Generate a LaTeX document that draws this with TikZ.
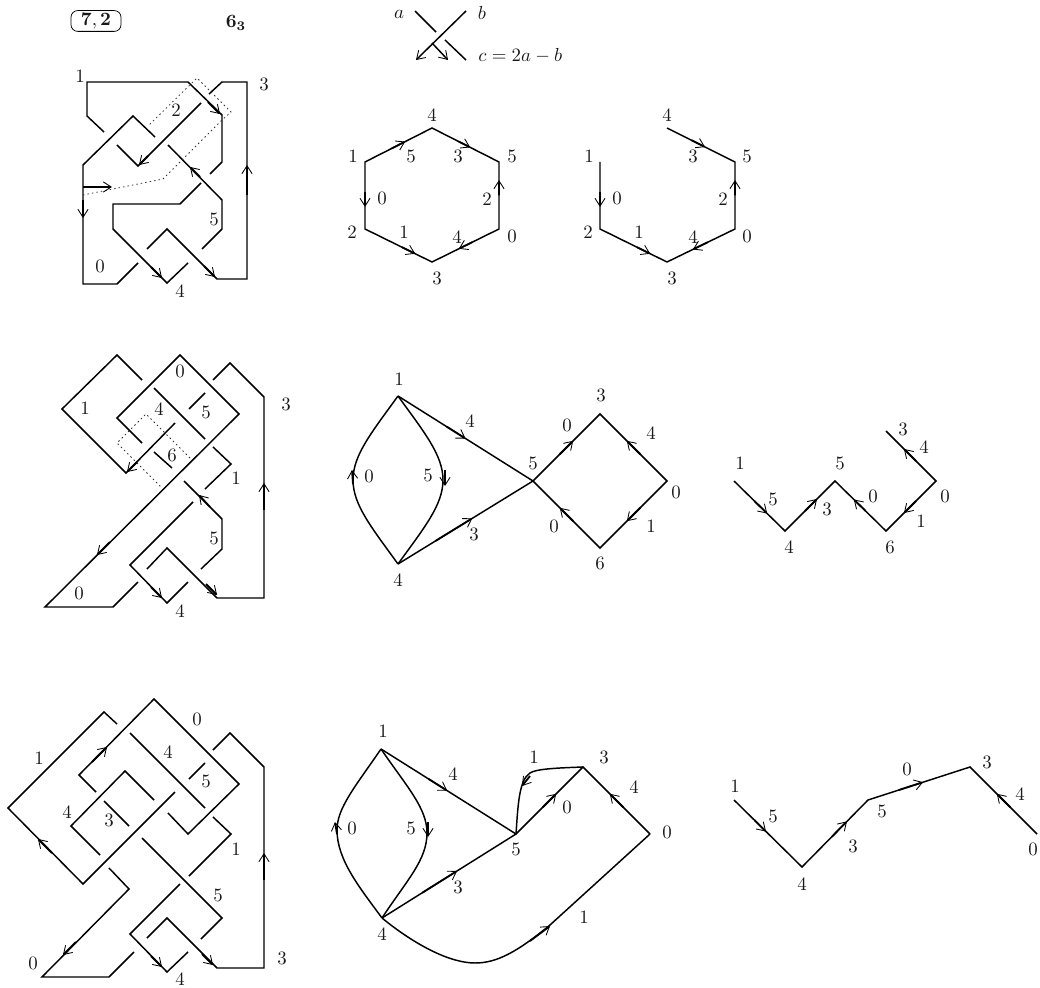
\documentclass[tikz,border=0pt]{standalone}
\usepackage{amsmath,amssymb}
\usetikzlibrary{arrows.meta,calc}
\tikzset{
  >={Straight Barb[length=4.2pt,width=5.4pt,line width=.45pt]},
  kn/.style={draw=black,line width=0.78pt,line join=miter},
  arw/.style={->,draw=black,line width=0.95pt},
  dt/.style={draw=black!80,line width=0.4pt,dash pattern=on 0.8pt off 1.6pt},
  lab/.style={inner sep=0pt,text=black!90},
}
\begin{document}
\begin{tikzpicture}[x=0.53pt,y=-0.53pt]
  \useasboundingbox (0,0) rectangle (1040,988);
  % titel
  \node[lab,draw,line width=0.4pt,rounded corners=3.5pt,minimum width=26.5pt,minimum height=11pt] (tbox) at (96,21) {$\mathbf{7,2}$};
  \node[lab] (tknot) at (236,23) {$\mathbf{6_{3}}$};
  % korsning
  \coordinate (ca) at (415,11);
  \coordinate (cb) at (466,11);
  \coordinate (cc) at (466,60);
  \draw[kn] (ca) -- (436,32);
  \draw[kn] (445,40) -- (cc);
  \draw[->,kn] (cb) -- (416,60);
  \draw[->,kn] (432,43) -- (448,60);
  \node[lab] (cla) at (399,14) {$a$};
  \node[lab] (clb) at (482,13) {$b$};
  \node[lab,anchor=west] (clc) at (478,56) {$c=2a-b$};
  % rad 1, diagram
  \draw[kn] (104,132) -- (87,116) -- (87,82) -- (188,82) -- (222,115) -- (222,162) -- (210,174);
  \draw[kn] (155,137) -- (133,116) -- (83,165) -- (83,284) -- (117,284) -- (138,263);
  \draw[kn] (201,103) -- (138,166) -- (117,145);
  \draw[kn] (168,145) -- (222,200) -- (222,229) -- (202,249);
  \draw[kn] (201,183) -- (180,204) -- (113,204) -- (113,229) -- (167,283) -- (188,263);
  \draw[kn] (147,249) -- (167,229) -- (217,279) -- (247,279) -- (247,82) -- (222,82) -- (209,94);
  \draw[dt] (83,195) -- (163,179) -- (222,120) -- (231,112) -- (197,78) -- (148,126);
  \draw[arw] (208,102) -- (220,114);
  \draw[arw] (83,200) -- (83,218);
  \draw[arw] (148,156) -- (139,165);
  \draw[arw] (200,177) -- (190,167);
  \draw[arw] (151,267) -- (162,278);
  \draw[arw] (204,266) -- (215,277);
  \draw[arw] (247,195) -- (247,165);
  \draw[->,kn] (83,187) -- (112,187);
  \node[lab] (a1) at (80,76) {1};
  \node[lab] (a2) at (176,110) {2};
  \node[lab] (a3) at (264,84) {3};
  \node[lab] (a5) at (214,219) {5};
  \node[lab] (a0) at (100,266) {0};
  \node[lab] (a4) at (180,291) {4};
  % rad 1, sexhörning
  \coordinate (h1) at (365,162);
  \coordinate (h4) at (432,128);
  \coordinate (h5) at (499,162);
  \coordinate (h0) at (499,229);
  \coordinate (h3) at (432,262);
  \coordinate (h2) at (365,229);
  \draw[kn] (h1) -- (h4) -- (h5) -- (h0) -- (h3) -- (h2) -- cycle;
  \draw[arw] ($(h1)!.4!(h4)$) -- ($(h1)!.6!(h4)$);
  \draw[arw] ($(h4)!.4!(h5)$) -- ($(h4)!.57!(h5)$);
  \draw[arw] ($(h1)!.45!(h2)$) -- ($(h1)!.67!(h2)$);
  \draw[arw] ($(h2)!.55!(h3)$) -- ($(h2)!.75!(h3)$);
  \draw[arw] ($(h0)!.4!(h3)$) -- ($(h0)!.6!(h3)$);
  \draw[arw] ($(h0)!.5!(h5)$) -- ($(h0)!.73!(h5)$);
  \node[lab] (b4) at (432,115) {4};
  \node[lab] (b1) at (353,156) {1};
  \node[lab] (be5) at (411,156) {5};
  \node[lab] (be3) at (458,156) {3};
  \node[lab] (b5) at (512,156) {5};
  \node[lab] (be0) at (382,198) {0};
  \node[lab] (be2) at (487,199) {2};
  \node[lab] (b2) at (352,232) {2};
  \node[lab] (be1) at (404,232) {1};
  \node[lab] (be4) at (457,237) {4};
  \node[lab] (b0) at (512,236) {0};
  \node[lab] (b3) at (437,278) {3};
  % rad 1, öppen sexhörning
  \coordinate (i4) at (667,128);
  \coordinate (i5) at (735,162);
  \coordinate (i0) at (735,229);
  \coordinate (i3) at (667,262);
  \coordinate (i2) at (600,229);
  \coordinate (i1) at (600,162);
  \draw[kn] (i4) -- (i5) -- (i0) -- (i3) -- (i2) -- (i1);
  \draw[arw] ($(i4)!.36!(i5)$) -- ($(i4)!.56!(i5)$);
  \draw[arw] ($(i0)!.5!(i5)$) -- ($(i0)!.73!(i5)$);
  \draw[arw] ($(i1)!.45!(i2)$) -- ($(i1)!.67!(i2)$);
  \draw[arw] ($(i2)!.55!(i3)$) -- ($(i2)!.75!(i3)$);
  \draw[arw] ($(i0)!.4!(i3)$) -- ($(i0)!.62!(i3)$);
  \node[lab] (c4) at (667,115) {4};
  \node[lab] (c1) at (589,156) {1};
  \node[lab] (ce3) at (693,156) {3};
  \node[lab] (c5) at (747,156) {5};
  \node[lab] (ce0) at (617,198) {0};
  \node[lab] (ce2) at (723,199) {2};
  \node[lab] (c2) at (588,232) {2};
  \node[lab] (ce1) at (639,232) {1};
  \node[lab] (ce4) at (693,237) {4};
  \node[lab] (c0) at (747,236) {0};
  \node[lab] (c3) at (672,278) {3};
  % rad 2, diagram
  \draw[kn] (142,380) -- (117,355) -- (62,409) -- (126,473) -- (175,423);
  \draw[kn] (142,443) -- (117,418) -- (180,355) -- (239,414) -- (45,607) -- (113,607) -- (138,582);
  \draw[kn] (154,388) -- (205,439);
  \draw[kn] (189,409) -- (205,393);
  \draw[kn] (154,452) -- (172,468);
  \draw[kn] (213,380) -- (230,363) -- (264,397) -- (264,598) -- (217,598) -- (167,548) -- (147,569);
  \draw[kn] (213,447) -- (231,464) -- (205,489);
  \draw[kn] (184,481) -- (222,519) -- (222,549) -- (201,569);
  \draw[kn] (193,502) -- (130,565) -- (167,603) -- (188,582);
  \draw[dt] (190,458) -- (146,414) -- (117,443) -- (162,488);
  \draw[arw] (137,462) -- (127,472);
  \draw[arw] (110,542) -- (97,555);
  \draw[arw] (264,510) -- (264,483);
  \draw[arw] (206,584) -- (217,595);
  \draw[arw] (210,507) -- (199,495);
  \draw[arw] (151,587) -- (162,598);
  \node[lab] (d0) at (180,371) {0};
  \node[lab] (d1) at (85,408) {1};
  \node[lab] (d3) at (286,404) {3};
  \node[lab] (d4) at (159,409) {4};
  \node[lab] (d5) at (206,412) {5};
  \node[lab] (d6) at (172,455) {6};
  \node[lab] (dd1) at (236,478) {1};
  \node[lab] (dd5) at (214,538) {5};
  \node[lab] (dd0) at (79,593) {0};
  \node[lab] (dd4) at (180,611) {4};
  % rad 2, graf
  \coordinate (g1) at (398,396);
  \coordinate (g4) at (398,564);
  \coordinate (g5) at (533,481);
  \coordinate (g3) at (600,414);
  \coordinate (g0) at (667,481);
  \coordinate (g6) at (600,548);
  \draw[kn] (g1) .. controls (372,432) and (353,455) .. (353,480) .. controls (353,505) and (372,528) .. (g4);
  \draw[kn] (g1) .. controls (424,432) and (443,455) .. (443,480) .. controls (443,505) and (424,528) .. (g4);
  \draw[kn] (g1) -- (g5) -- (g3) -- (g0) -- (g6) -- (g5) -- (g4);
  \draw[arw] (353,484) -- (352,470);
  \draw[arw] (445,470) -- (445,486);
  \draw[arw] ($(g1)!.36!(g5)$) -- ($(g1)!.5!(g5)$);
  \draw[arw] ($(g4)!.28!(g5)$) -- ($(g4)!.55!(g5)$);
  \draw[arw] ($(g5)!.4!(g3)$) -- ($(g5)!.6!(g3)$);
  \draw[arw] ($(g0)!.4!(g3)$) -- ($(g0)!.6!(g3)$);
  \draw[arw] ($(g0)!.4!(g6)$) -- ($(g0)!.6!(g6)$);
  \draw[arw] ($(g6)!.4!(g5)$) -- ($(g6)!.6!(g5)$);
  \node[lab] (e1) at (399,379) {1};
  \node[lab] (ee4) at (470,421) {4};
  \node[lab] (ee0) at (567,425) {0};
  \node[lab] (e3) at (601,395) {3};
  \node[lab] (ef4) at (651,433) {4};
  \node[lab] (e5) at (533,463) {5};
  \node[lab] (eg0) at (369,476) {0};
  \node[lab] (ee5) at (428,475) {5};
  \node[lab] (e0) at (676,492) {0};
  \node[lab] (ee3) at (474,534) {3};
  \node[lab] (ef0) at (554,526) {0};
  \node[lab] (ee1) at (651,526) {1};
  \node[lab] (e6) at (600,563) {6};
  \node[lab] (e4) at (398,580) {4};
  % rad 2, väg
  \coordinate (q1) at (734,481);
  \coordinate (q4) at (785,531);
  \coordinate (q5) at (835,481);
  \coordinate (q6) at (886,531);
  \coordinate (q0) at (936,481);
  \coordinate (q3) at (886,431);
  \draw[kn] (q1) -- (q4) -- (q5) -- (q6) -- (q0) -- (q3);
  \draw[arw] ($(q1)!.4!(q4)$) -- ($(q1)!.65!(q4)$);
  \draw[arw] ($(q4)!.4!(q5)$) -- ($(q4)!.64!(q5)$);
  \draw[arw] ($(q6)!.4!(q5)$) -- ($(q6)!.63!(q5)$);
  \draw[arw] ($(q0)!.4!(q6)$) -- ($(q0)!.64!(q6)$);
  \draw[arw] ($(q0)!.4!(q3)$) -- ($(q0)!.64!(q3)$);
  \node[lab] (f1) at (740,463) {1};
  \node[lab] (fe5) at (773,499) {5};
  \node[lab] (f4) at (789,547) {4};
  \node[lab] (fe3) at (827,509) {3};
  \node[lab] (f5) at (840,463) {5};
  \node[lab] (fe0) at (873,496) {0};
  \node[lab] (f6) at (890,547) {6};
  \node[lab] (fe1) at (921,521) {1};
  \node[lab] (f0) at (945,496) {0};
  \node[lab] (fe4) at (924,447) {4};
  \node[lab] (f3) at (903,429) {3};
  % rad 3, diagram
  \draw[kn] (117,724) -- (104,712) -- (8,808) -- (83,884) -- (175,792);
  \draw[kn] (96,792) -- (79,775) -- (154,699) -- (239,784) -- (188,834) -- (168,813);
  \draw[kn] (130,733) -- (205,808);
  \draw[kn] (189,779) -- (205,763);
  \draw[kn] (154,800) -- (125,771) -- (71,826) -- (100,855);
  \draw[kn] (104,801) -- (129,826);
  \draw[kn] (213,750) -- (230,733) -- (264,767) -- (264,968) -- (217,968) -- (167,918) -- (147,938);
  \draw[kn] (213,817) -- (231,834) -- (189,876);
  \draw[kn] (142,838) -- (222,918) -- (201,939);
  \draw[kn] (180,884) -- (130,934) -- (167,972) -- (188,952);
  \draw[kn] (109,868) -- (129,889) -- (42,977) -- (109,977) -- (134,952);
  \draw[arw] (52,853) -- (38,839);
  \draw[arw] (92,762) -- (107,747);
  \draw[arw] (264,880) -- (264,853);
  \draw[arw] (202,954) -- (213,965);
  \draw[arw] (151,956) -- (162,967);
  \draw[arw] (76,942) -- (63,955);
  \node[lab] (j0) at (197,719) {0};
  \node[lab] (j1) at (39,758) {1};
  \node[lab] (j4) at (168,752) {4};
  \node[lab] (j5) at (206,781) {5};
  \node[lab] (jj4) at (67,812) {4};
  \node[lab] (j3) at (109,820) {3};
  \node[lab] (jj1) at (236,849) {1};
  \node[lab] (jj5) at (218,895) {5};
  \node[lab] (jj3) at (282,958) {3};
  \node[lab] (jj0) at (33,963) {0};
  \node[lab] (jk4) at (180,979) {4};
  % rad 3, graf
  \coordinate (s1) at (381,749);
  \coordinate (s4) at (382,918);
  \coordinate (s5) at (516,834);
  \coordinate (s3) at (583,767);
  \coordinate (s0) at (650,834);
  \draw[kn] (s1) .. controls (355,787) and (337,808) .. (337,830) .. controls (337,860) and (360,888) .. (s4);
  \draw[kn] (s1) .. controls (407,787) and (427,808) .. (427,833) .. controls (427,860) and (407,880) .. (s4);
  \draw[kn] (s1) -- (s5) -- (s3) -- (s0);
  \draw[kn] (s5) -- (s4);
  \draw[kn] (s3) .. controls (555,768) and (536,769) .. (530,773) .. controls (519,780) and (518,805) .. (s5);
  \draw[kn] (s4) .. controls (415,945) and (450,963) .. (475,963) .. controls (497,963) and (517,952) .. (550,925) -- (s0);
  \draw[arw] (337,834) -- (335,822);
  \draw[arw] (428,822) -- (428,837);
  \draw[arw] (530,776) -- (522,786);
  \draw[arw] (530,941) -- (550,926);
  \draw[arw] ($(s1)!.35!(s5)$) -- ($(s1)!.49!(s5)$);
  \draw[arw] ($(s4)!.3!(s5)$) -- ($(s4)!.56!(s5)$);
  \draw[arw] ($(s5)!.4!(s3)$) -- ($(s5)!.6!(s3)$);
  \draw[arw] ($(s0)!.4!(s3)$) -- ($(s0)!.6!(s3)$);
  \node[lab] (m1) at (383,731) {1};
  \node[lab] (me1) at (534,757) {1};
  \node[lab] (m3) at (604,757) {3};
  \node[lab] (me4) at (453,774) {4};
  \node[lab] (mf4) at (634,787) {4};
  \node[lab] (me0) at (567,807) {0};
  \node[lab] (mf0) at (352,828) {0};
  \node[lab] (me5) at (411,828) {5};
  \node[lab] (m0) at (667,832) {0};
  \node[lab] (m5) at (516,849) {5};
  \node[lab] (me3) at (458,887) {3};
  \node[lab] (mf1) at (584,917) {1};
  \node[lab] (m4) at (382,934) {4};
  % rad 3, väg
  \coordinate (r1) at (734,800);
  \coordinate (r4) at (802,867);
  \coordinate (r5) at (868,800);
  \coordinate (r3) at (970,767);
  \coordinate (r0) at (1037,834);
  \draw[kn] (r1) -- (r4) -- (r5) -- (r3) -- (r0);
  \draw[arw] ($(r1)!.3!(r4)$) -- ($(r1)!.47!(r4)$);
  \draw[arw] ($(r4)!.45!(r5)$) -- ($(r4)!.68!(r5)$);
  \draw[arw] ($(r5)!.3!(r3)$) -- ($(r5)!.54!(r3)$);
  \draw[arw] ($(r0)!.4!(r3)$) -- ($(r0)!.6!(r3)$);
  \node[lab] (n1) at (735,786) {1};
  \node[lab] (ne5) at (773,816) {5};
  \node[lab] (n4) at (802,884) {4};
  \node[lab] (ne3) at (853,846) {3};
  \node[lab] (n5) at (882,811) {5};
  \node[lab] (ne0) at (907,769) {0};
  \node[lab] (n3) at (987,762) {3};
  \node[lab] (ne4) at (1020,794) {4};
  \node[lab] (n0) at (1033,849) {0};
\end{tikzpicture}
\end{document}
